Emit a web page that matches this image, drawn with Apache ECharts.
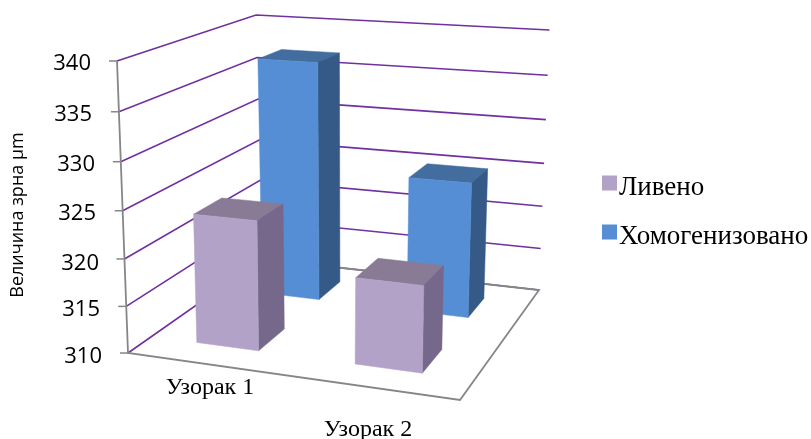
<!DOCTYPE html>
<html><head><meta charset="utf-8">
<style>html,body{margin:0;padding:0;background:#fff}#c{width:811px;height:439px}</style>
<script src="https://cdn.jsdelivr.net/npm/echarts@6/dist/echarts.min.js"></script>
</head><body><div id="c"></div>
<script>
const categories = ['Узорак 1', 'Узорак 2'];
const seriesNames = ['Ливено', 'Хомогенизовано'];
const livenoValues = [323.8, 319.0];
const homogenValues = [337.0, 325.1];
const tickValues = [310, 315, 320, 325, 330, 335, 340];
const axisTitle = 'Величина зрна µm';

// projection of the 3D box (u across, d depth, t height) on the screen
function quad(p00, p10, p11, p01) {
  const dx1 = p10[0]-p11[0], dx2 = p01[0]-p11[0], sx = p00[0]-p10[0]+p11[0]-p01[0];
  const dy1 = p10[1]-p11[1], dy2 = p01[1]-p11[1], sy = p00[1]-p10[1]+p11[1]-p01[1];
  const det = dx1*dy2-dx2*dy1;
  const g = (sx*dy2-dx2*sy)/det, h = (dx1*sy-sx*dy1)/det;
  return (u, v) => {
    const w = g*u+h*v+1;
    return [((p10[0]-p00[0]+g*p10[0])*u+(p01[0]-p00[0]+h*p01[0])*v+p00[0])/w,
            ((p10[1]-p00[1]+g*p10[1])*u+(p01[1]-p00[1]+h*p01[1])*v+p00[1])/w];
  };
}
const floorPlane = quad([128,353],[460,400],[539,290],[262,259]);
const topPlane = quad([117,61],[467,83],[549.5,30],[256,15]);
const persp = 0.95;
function project(u, d, t) {
  const a = floorPlane(u, d), b = topPlane(u, d);
  const k = t*persp/(1-t+t*persp);
  return [a[0]+(b[0]-a[0])*k, a[1]+(b[1]-a[1])*k];
}
const depthCenter = [0.25, 0.75];
const barHalf = 0.1;

function barRenderer(seriesIndex, colors) {
  return function (params, api) {
    const cs = params.coordSys;
    const p = api.coord([api.value(0), api.value(1)]);
    const u = (p[0]-cs.x)/cs.width, t = (cs.y+cs.height-p[1])/cs.height;
    const u0 = u-barHalf, u1 = u+barHalf;
    const d0 = depthCenter[seriesIndex]-barHalf, d1 = depthCenter[seriesIndex]+barHalf;
    const face = (pts, c) => ({type:'polygon', shape:{points:pts}, style:{fill:c, stroke:c, lineWidth:0.5}});
    return {type:'group', children:[
      face([project(u0,d0,t),project(u1,d0,t),project(u1,d1,t),project(u0,d1,t)], colors.top),
      face([project(u1,d0,0),project(u1,d1,0),project(u1,d1,t),project(u1,d0,t)], colors.side),
      face([project(u0,d0,0),project(u1,d0,0),project(u1,d0,t),project(u0,d0,t)], colors.front)
    ]};
  };
}
function frameRenderer(params, api) {
  const cs = params.coordSys;
  const p = api.coord([0, api.value(0)]);
  const t = (cs.y+cs.height-p[1])/cs.height;
  const a = project(0,0,t), b = project(0,1,t), c = project(1,1,t);
  const kids = [
    {type:'polyline', shape:{points:[a,b,c]}, style:{fill:'none', stroke:'#7030A0', lineWidth:1.6}, z2:1},
    {type:'line', shape:{x1:a[0]-8,y1:a[1],x2:a[0],y2:a[1]}, style:{stroke:'#868686', lineWidth:1.5}, z2:2}
  ];
  if (params.dataIndex === 0) {
    kids.push({type:'polyline', shape:{points:[project(0,1,0),project(1,1,0),project(1,0,0),project(0,0,0),project(0,0,1)]},
      style:{fill:'none', stroke:'#868686', lineWidth:1.8}, z2:3, silent:true});
  }
  return {type:'group', children:kids};
}

const labelNudge = {340:[6,11], 335:[11,10], 330:[13,7], 325:[14,6], 320:[17,3], 315:[11,2], 310:[8,0]};
const richY = {};
tickValues.forEach(v => {
  richY['v'+v] = {padding:[labelNudge[v][0],labelNudge[v][1],0,0], fontFamily:'Open Sans', fontSize:22, color:'#000'};
});

const chart = echarts.init(document.getElementById('c'), null, {renderer:'canvas'});
chart.setOption({
  animation:false,
  backgroundColor:'#fff',
  grid:{left:131, top:61, width:316, height:292, containLabel:false, outerBoundsMode:'none'},
  legend:{
    orient:'vertical', left:602, top:174, data:seriesNames, itemWidth:15, itemHeight:15, itemGap:22,
    icon:'rect', selectedMode:false, padding:0,
    formatter:n=>'{t|'+n+'}',
    textStyle:{fontFamily:'Liberation Serif', fontSize:27, color:'#000',
      rich:{t:{fontFamily:'Liberation Serif', fontSize:27, color:'#000', padding:[9,0,0,-3]}}}
  },
  xAxis:{type:'category', data:categories, axisLine:{show:false}, axisTick:{show:false},
    axisLabel:{margin:23, interval:0, formatter:(v,i)=>'{c'+i+'|'+v+'}',
      rich:{c0:{fontFamily:'Liberation Serif',fontSize:24,color:'#000',padding:[0,0,0,0]},
            c1:{fontFamily:'Liberation Serif',fontSize:24,color:'#000',padding:[42,0,0,0]}}}},
  yAxis:{type:'value', min:310, max:340, interval:5, axisLine:{show:false}, axisTick:{show:false}, splitLine:{show:false},
    name:axisTitle, nameLocation:'middle', nameGap:104,
    nameTextStyle:{fontFamily:'Open Sans', fontSize:18, color:'#000', padding:[0,16,0,0]},
    axisLabel:{margin:29, formatter:v=>'{v'+v+'|'+v+'}', rich:richY}},
  series:[
    {type:'custom', name:'frame', coordinateSystem:'cartesian2d', z:1,
      data:tickValues.map(v=>[v]), renderItem:frameRenderer, encode:{y:0}, silent:true},
    {type:'custom', name:seriesNames[1], coordinateSystem:'cartesian2d', encode:{x:0,y:1}, z:2,
      itemStyle:{color:'#558ED5'},
      data:homogenValues.map((v,i)=>[i,v]),
      renderItem:barRenderer(1,{front:'#558ED5',side:'#355A87',top:'#426D9E'})},
    {type:'custom', name:seriesNames[0], coordinateSystem:'cartesian2d', encode:{x:0,y:1}, z:3,
      itemStyle:{color:'#B3A2C7'},
      data:livenoValues.map((v,i)=>[i,v]),
      renderItem:barRenderer(0,{front:'#B3A2C7',side:'#75688A',top:'#897B95'})}
  ]
});
</script></body></html>
